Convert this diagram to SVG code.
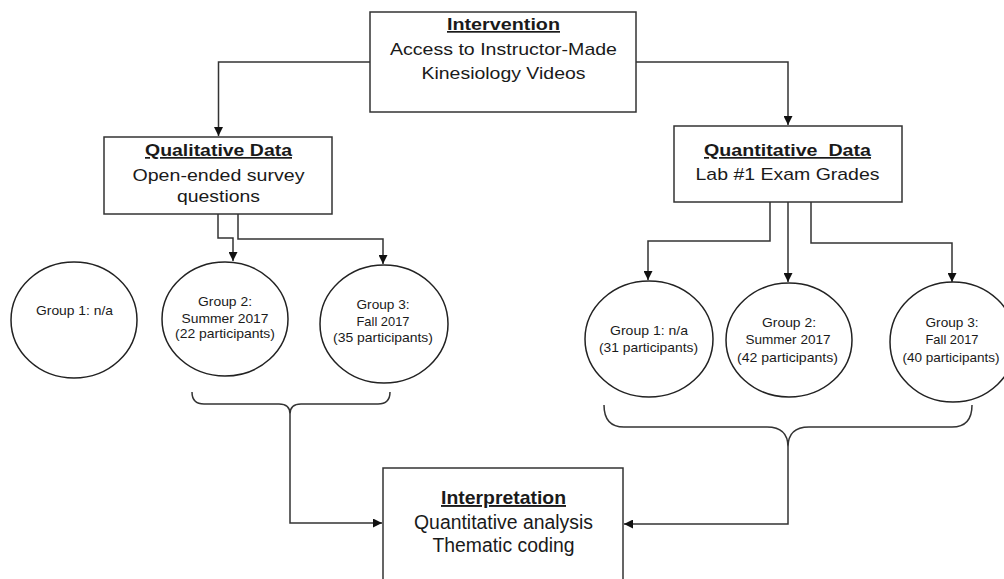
<svg xmlns="http://www.w3.org/2000/svg" width="1004" height="579" viewBox="0 0 1004 579">
<style>
  .box { fill: #fff; stroke: #333; stroke-width: 1.5; }
  .circ { fill: #fff; stroke: #222; stroke-width: 1.5; }
  .conn { fill: none; stroke: #333; stroke-width: 1.5; }
  .t { font-family: "Liberation Sans", Arial, sans-serif; fill: #1a1a1a; text-anchor: middle; }
  .h { font-weight: bold; text-decoration: underline; }
  .big { font-size: 17px; }
  .sm { font-size: 13px; }
</style>
<defs>
  <marker id="arr" viewBox="0 0 10 10" refX="10" refY="5" markerWidth="9" markerHeight="9" markerUnits="userSpaceOnUse" orient="auto">
    <path d="M0,0 L10,5 L0,10 z" fill="#111"/>
  </marker>
</defs>
<rect width="1004" height="579" fill="#fff"/>

<g id="connectors">
  <path class="conn" d="M370,62 H218.5 V136" marker-end="url(#arr)"/>
  <path class="conn" d="M636,62 H788 V125" marker-end="url(#arr)"/>
  <path class="conn" d="M218,214 V238 H233 V261" marker-end="url(#arr)"/>
  <path class="conn" d="M238,214 V239 H383 V264" marker-end="url(#arr)"/>
  <path class="conn" d="M770,202 V241 H648 V280" marker-end="url(#arr)"/>
  <path class="conn" d="M788,202 V282" marker-end="url(#arr)"/>
  <path class="conn" d="M811,202 V243 H952 V282" marker-end="url(#arr)"/>
  <path class="conn" d="M192,392 Q192,404 204,404 H279 Q290,404 290,414 Q290,404 301,404 H378 Q390,404 390,392"/>
  <path class="conn" d="M290,414 V523 H382" marker-end="url(#arr)"/>
  <path class="conn" d="M604,405 Q604,427 624,427 H767 Q788,427 788,447 Q788,427 809,427 H952 Q972,427 972,405"/>
  <path class="conn" d="M788,447 V524 H624" marker-end="url(#arr)"/>
</g>

<g id="intervention">
  <rect class="box" x="370" y="12" width="266" height="100"/>
  <text class="t h big" x="503.5" y="30" textLength="113" lengthAdjust="spacingAndGlyphs">Intervention</text>
  <text class="t big" x="503.5" y="55" textLength="227" lengthAdjust="spacingAndGlyphs">Access to Instructor-Made</text>
  <text class="t big" x="503.5" y="79" textLength="164" lengthAdjust="spacingAndGlyphs">Kinesiology Videos</text>
</g>

<g id="qualitative">
  <rect class="box" x="104" y="137" width="228" height="77"/>
  <text class="t h big" x="218.5" y="156" textLength="147" lengthAdjust="spacingAndGlyphs">Qualitative Data</text>
  <text class="t big" x="218.5" y="181" textLength="172" lengthAdjust="spacingAndGlyphs">Open-ended survey</text>
  <text class="t big" x="218.5" y="202" textLength="83" lengthAdjust="spacingAndGlyphs">questions</text>
</g>

<g id="quantitative">
  <rect class="box" x="674" y="126" width="228" height="76"/>
  <text class="t h big" x="787.5" y="156" textLength="167" lengthAdjust="spacingAndGlyphs" xml:space="preserve">Quantitative  Data</text>
  <text class="t big" x="787.5" y="180" textLength="184" lengthAdjust="spacingAndGlyphs">Lab #1 Exam Grades</text>
</g>

<g id="qual-group1">
  <ellipse class="circ" cx="74" cy="320" rx="63" ry="58"/>
  <text class="t sm" x="74.5" y="315" textLength="77" lengthAdjust="spacingAndGlyphs">Group 1: n/a</text>
</g>
<g id="qual-group2">
  <ellipse class="circ" cx="225" cy="319" rx="63" ry="57"/>
  <text class="t sm" x="225" y="306" textLength="54" lengthAdjust="spacingAndGlyphs">Group 2:</text>
  <text class="t sm" x="225" y="323" textLength="87" lengthAdjust="spacingAndGlyphs">Summer 2017</text>
  <text class="t sm" x="225" y="338" textLength="100" lengthAdjust="spacingAndGlyphs">(22 participants)</text>
</g>
<g id="qual-group3">
  <ellipse class="circ" cx="384" cy="324" rx="64" ry="59"/>
  <text class="t sm" x="383" y="309" textLength="53" lengthAdjust="spacingAndGlyphs">Group 3:</text>
  <text class="t sm" x="383" y="326" textLength="53" lengthAdjust="spacingAndGlyphs">Fall 2017</text>
  <text class="t sm" x="383" y="342" textLength="100" lengthAdjust="spacingAndGlyphs">(35 participants)</text>
</g>

<g id="quant-group1">
  <ellipse class="circ" cx="649" cy="339" rx="64" ry="58"/>
  <text class="t sm" x="649" y="335" textLength="78" lengthAdjust="spacingAndGlyphs">Group 1: n/a</text>
  <text class="t sm" x="648.5" y="352" textLength="99" lengthAdjust="spacingAndGlyphs">(31 participants)</text>
</g>
<g id="quant-group2">
  <ellipse class="circ" cx="789" cy="340" rx="63" ry="57"/>
  <text class="t sm" x="789" y="327" textLength="54" lengthAdjust="spacingAndGlyphs">Group 2:</text>
  <text class="t sm" x="788" y="344" textLength="85" lengthAdjust="spacingAndGlyphs">Summer 2017</text>
  <text class="t sm" x="787.5" y="362" textLength="101" lengthAdjust="spacingAndGlyphs">(42 participants)</text>
</g>
<g id="quant-group3">
  <ellipse class="circ" cx="953" cy="342" rx="63" ry="60"/>
  <text class="t sm" x="952" y="327" textLength="53" lengthAdjust="spacingAndGlyphs">Group 3:</text>
  <text class="t sm" x="952" y="344" textLength="53" lengthAdjust="spacingAndGlyphs">Fall 2017</text>
  <text class="t sm" x="951" y="362" textLength="97" lengthAdjust="spacingAndGlyphs">(40 participants)</text>
</g>

<g id="interpretation">
  <rect class="box" x="383" y="468" width="240" height="130"/>
  <text class="t h" style="font-size:19px" x="503.5" y="504" textLength="125" lengthAdjust="spacingAndGlyphs">Interpretation</text>
  <text class="t" style="font-size:20px" x="503.5" y="529" textLength="179" lengthAdjust="spacingAndGlyphs">Quantitative analysis</text>
  <text class="t" style="font-size:20px" x="503.5" y="552" textLength="142" lengthAdjust="spacingAndGlyphs">Thematic coding</text>
</g>
</svg>
